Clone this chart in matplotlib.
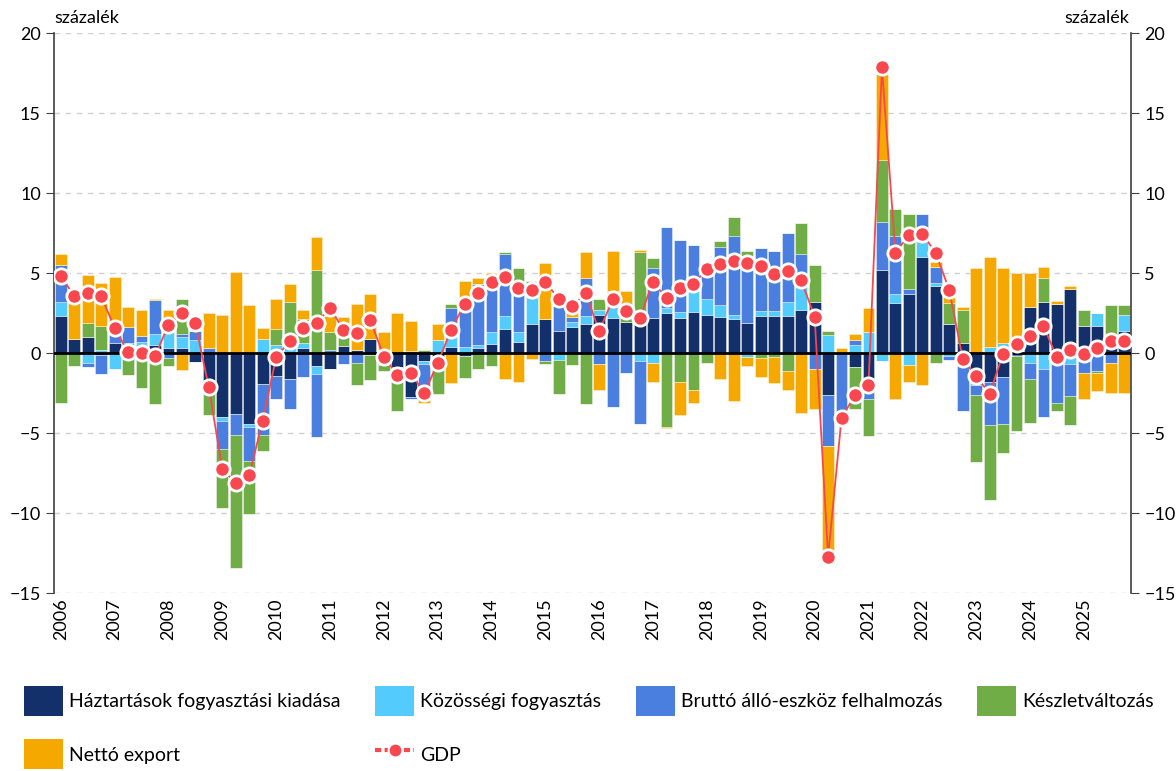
import matplotlib
matplotlib.use("Agg")
import matplotlib.pyplot as plt
from matplotlib.patches import Patch
from matplotlib.lines import Line2D
import numpy as np

plt.rcParams['font.family'] = ['Lato', 'DejaVu Sans']

# quarters 2006Q1 .. 2025Q4, percentage point contributions
years = list(range(2006, 2026))

haztartas = [2.3, 0.87, 1.02, -0.15,  0.6, 0.45, 0.2, 0.5,  0.3, 0.29, -0.55, -1.8,
             -4.02, -3.83, -4.44, -1.94,  -1.42, -1.63, 0.29, -0.8,  -1.0, 0.46, 0.19, 0.875,
             0, -0.9, -2.73, -0.5,  -0.23, 0.4, -0.2, 0.29,  0.58, 1.5, 0.69, 1.8,
             2.1, 1.4, 1.6, 1.79,  2.375, 2.2, 1.96, 2.2,  2.2, 2.48, 2.2, 2.58,
             2.375, 2.27, 2.1, 1.9,  2.31, 2.31, 2.31, 2.7,  3.2, -2.625, 0, -0.9,
             -1.9, 5.19, 3.1, 3.69,  6.02, 4.21, 1.81, 0.6,  -1.7, -1.83, -1.52, 0,
             2.9, 3.19, 3.06, 4.0,  1.71, 1.71, 0.3, 1.375]

kozossegi = [0.9, 0, -0.63, 0.2,  -1.0, 0.2, 0.47, 0.69,  1.75, 0.73, 0.8, 0,
             -0.2, 0, -0.17, 0.875,  0.5, 0.29, 0.31, -0.52,  0, 0, 0, -0.15,
             0, 0, 0, -0.19,  0.79, 0.69, 0.4, 0.21,  0.71, 0.81, 0.6, 1.65,
             0, -0.44, 0.36, 0.52,  0.31, 0.65, 0, -0.5,  -0.63, 0.31, 0.38, 1.3,
             1.0, 0.73, 0.27, -0.23,  0.31, 0.31, 0.88, 1.5,  0, 1.125, 0, 0.5,
             1.29, -0.5, 0.56, -0.75,  0.9, 0.14, -0.19, 0,  -0.3, 0.4, 0.6, 0,
             -0.6, -1.02, 0, -0.7,  0, 0.77, 0, 1.0]

beruhazas = [2.3, 0, -0.27, -1.15,  0.8, 0.95, 0.41, 2.12,  -0.3, 0.17, 0.55, 0.33,
             -1.79, -1.3, -2.15, -3.19,  -1.48, -1.9, -1.48, -3.9,  0.2, -0.69, -0.63, 0,
             -0.75, 0, -0.17, -1.42,  0, 1.75, 2.4, 3.79,  3.58, 3.9, 2.9, 0.3,
             -0.5, 1.55, 0.31, 2.4,  -0.71, -3.4, -1.27, -3.96,  3.1, 5.1, 4.48, 2.9,
             1.85, 3.6, 4.96, 4.1,  3.96, 3.75, 4.29, 2.0,  -1.0, -3.17, -4.4, 0.3,
             -1.0, 3.0, 3.65, 0.31,  1.77, 1.04, -0.23, -3.6,  -0.6, -2.7, -2.92, -0.2,
             -1.02, -2.96, -3.1, -2.0,  -1.23, -1.125, -0.6, 0]

keszlet = [-3.1, -0.8, 0.88, 1.5,  0, -1.38, -2.17, -3.19,  -0.5, 2.19, 0, -2.1,
           -3.69, -8.3, -3.33, -0.98,  1.0, 2.9, 1.5, 5.2,  1.1, 0.56, -1.37, -1.53,
           -0.35, -2.7, 0.1, 0.19,  -2.35, 0.23, -1.38, -1.0,  -0.8, 0.1, 1.15, 0.75,
           -0.2, -2.15, -0.78, -3.19,  0.69, 1.0, 0.73, 4.1,  0.65, -4.6, -1.8, -2.3,
           -0.63, 0.38, 1.15, 0.35,  -0.3, -0.23, -1.13, 1.9,  2.27, 0.25, 0, -2.6,
           -2.3, 3.9, 1.67, 4.69,  0, -0.6, 1.29, 2.08,  -4.2, -4.65, -1.83, -4.65,
           -2.77, 1.52, -0.5, -1.77,  0.98, -0.15, 2.7, 0.6]

export = [0.7, 2.53, 2.98, 2.67,  3.37, 1.25, 1.61, 0.09,  0.65, -1.09, 0, 2.15,
          2.375, 5.08, 2.97, 0.7,  1.875, 1.1, 0.58, 2.06,  1.0, 1.25, 2.9, 2.8,
          1.3, 2.48, 1.875, -1.0,  1.0, -1.9, 1.71, 0.375,  0.1, -1.63, -1.8, -0.4,
          3.5, 0, 0.31, 1.58,  -1.6, 2.5, 1.19, 0.15,  -1.17, -0.1, -2.1, -0.8,
          0, -1.63, -2.98, -0.56,  -1.19, -1.67, -1.19, -3.75,  -2.5, -6.5, 0.3, 0.375,
          1.5, 5.35, -2.9, -1.04,  -2.0, 0.31, 0.42, 0.19,  5.29, 5.58, 4.7, 4.98,
          2.08, 0.67, 0.21, 0.19,  -1.67, -1.1, -1.9, -2.48]

gdp = [4.83, 3.56, 3.73, 3.56,  1.58, 0.04, 0.0, -0.2,  1.75, 2.52, 1.85, -2.15,
       -7.25, -8.15, -7.65, -4.23,  -0.27, 0.75, 1.58, 1.85,  2.83, 1.44, 1.23, 2.06,
       -0.23, -1.375, -1.23, -2.52,  -0.63, 1.44, 3.06, 3.73,  4.46, 4.77, 4.04, 3.94,
       4.46, 3.35, 2.95, 3.73,  1.375, 3.35, 2.63, 2.17,  4.46, 3.42, 4.04, 4.31,
       5.25, 5.54, 5.75, 5.65,  5.44, 4.92, 5.15, 4.56,  2.27, -12.73, -4.04, -2.65,
       -2.0, 17.85, 6.27, 7.37,  7.46, 6.25, 3.93, -0.35,  -1.45, -2.55, -0.04, 0.58,
       1.07, 1.67, -0.27, 0.18,  -0.04, 0.29, 0.78, 0.78]

names = ['Háztartások fogyasztási kiadása', 'Közösségi fogyasztás',
         'Bruttó álló-eszköz felhalmozás', 'Készletváltozás', 'Nettó export']
colors = ['#13306b', '#53cbfd', '#4a7fdf', '#70ad47', '#f5a800']
red = '#f9474f'

series = [haztartas, kozossegi, beruhazas, keszlet, export]

fig = plt.figure(figsize=(11.76, 7.71), dpi=100)
ax = fig.add_axes([54/1176, 1-593/771, (1131-54)/1176, (593-33)/771])

x = np.arange(len(gdp))
pos_bottom = np.zeros(len(x))
neg_bottom = np.zeros(len(x))
for vals, c in zip(series, colors):
    v = np.array(vals, dtype=float)
    p = np.where(v > 0, v, 0)
    n = np.where(v < 0, v, 0)
    ax.bar(x, p, 0.88, bottom=pos_bottom, color=c, edgecolor=(1, 1, 1, 0.45), linewidth=0.6, zorder=2)
    ax.bar(x, n, 0.88, bottom=neg_bottom, color=c, edgecolor=(1, 1, 1, 0.45), linewidth=0.6, zorder=2)
    pos_bottom += p
    neg_bottom += n

ax.axhline(0, color='black', lw=2, zorder=3)
ax.plot(x, gdp, color=red, lw=1.3, marker='o', markersize=11, markerfacecolor=red,
        markeredgecolor='white', markeredgewidth=2, zorder=4)

ax.set_xlim(-0.5, len(x) - 0.5)
ax.set_ylim(-15, 20)
ax.set_yticks(range(-15, 21, 5))
ax.yaxis.grid(True, color='#d0d0d0', linestyle=(0, (4, 4)), lw=1)
ax.set_axisbelow(True)
ax.set_xticks(np.arange(0, len(x), 4))
ax.set_xticklabels([str(y) for y in years], rotation=90, fontsize=13)
ax.tick_params(axis='x', length=0, pad=4)
ax.tick_params(axis='y', labelsize=13, left=True, right=True, labelleft=True, labelright=True,
               length=6, color='#404040', direction='out')
for s in ['top', 'bottom']:
    ax.spines[s].set_visible(False)
for s in ['left', 'right']:
    ax.spines[s].set_color('#404040')
    ax.spines[s].set_linewidth(1.2)

fig.text(54/1176, 1-18/771, 'százalék', ha='left', va='center', fontsize=13)
fig.text(1129/1176, 1-18/771, 'százalék', ha='right', va='center', fontsize=13)

handles = [Patch(facecolor=c) for c in colors]
gdp_handle = Line2D([], [], color=red, lw=3, linestyle=(0, (1.5, 0.8)), marker='o', markersize=10,
                    markerfacecolor=red, markeredgecolor='white', markeredgewidth=1.5)
order_h = [handles[0], handles[4], handles[1], gdp_handle, handles[2], handles[3]]
order_l = [names[0], names[4], names[1], 'GDP', names[2], names[3]]
fig.legend(order_h, order_l, ncol=4, loc='upper left', bbox_to_anchor=(24/1176, 1-686/771),
           frameon=False, fontsize=14, handlelength=2.0, handleheight=2.0, handletextpad=0.3,
           columnspacing=1.8, labelspacing=1.2, borderaxespad=0, borderpad=0)

fig.savefig('out.png', dpi=100)
